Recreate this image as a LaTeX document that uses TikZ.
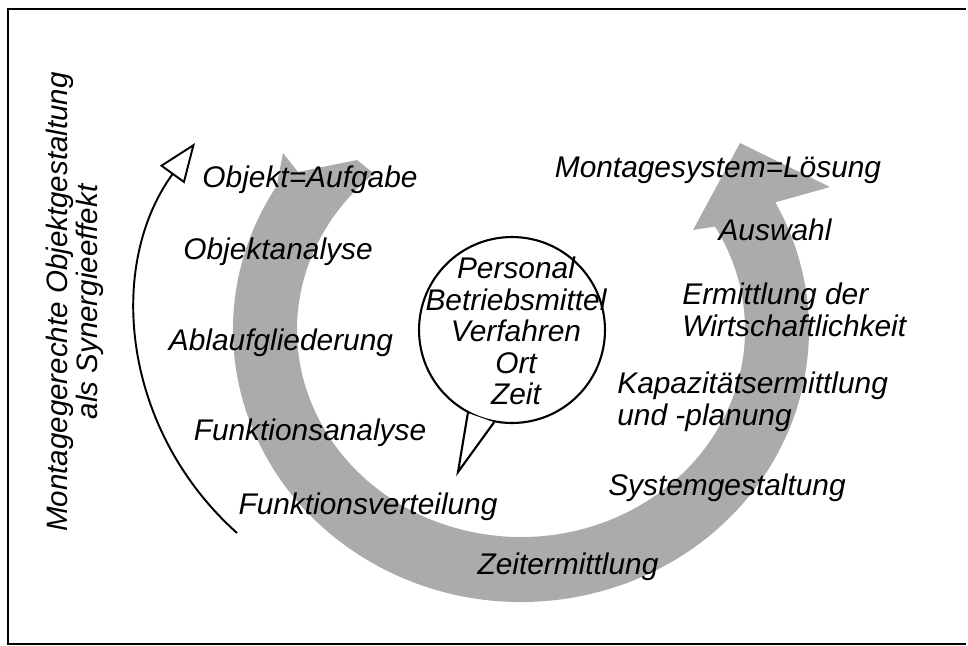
\documentclass[tikz,border=0pt]{standalone}
\usepackage{fontspec}
\setmainfont{Liberation Sans}
\usetikzlibrary{positioning,arrows.meta,calc}

\begin{document}
\begin{tikzpicture}[
    x=0.02cm, y=-0.02cm,
    font=\fontsize{17pt}{18pt}\selectfont\itshape,
    every node/.style={align=center, inner sep=0pt},
    ring/.style={fill=black!33},
    bubble/.style={circle, draw, line width=1.2pt, minimum size=3.72cm, fill=white},
    tail/.style={fill=white, draw, line width=1.2pt, line join=miter},
    syn/.style={line width=1.1pt, -{Triangle[open, length=0.78cm, width=0.6cm, line width=1.1pt]}},
    side/.style={rotate=90, font=\fontsize{16.8pt}{15pt}\selectfont\itshape},
    frame/.style={line width=1.3pt}
]

\useasboundingbox (0,0) rectangle (968,646);
\draw[frame] (966,9) -- (8,9) -- (8,644) -- (966,644);

\coordinate (rc) at (521,330);
\fill[ring] (283,153) -- ($(rc)+(212:288 and 272)$) arc[start angle=212, end angle=-28, x radius=288, y radius=272]
    -- (830,187) -- (740,143) -- (693,230)
    -- ($(rc)+(-30:224 and 207)$) arc[start angle=-30, end angle=229, x radius=224, y radius=207]
    -- (357,160) -- (298,172) -- cycle;

\node (obj)   at (310,180) {Objekt=Aufgabe};
\node (oana)  at (278,252) {Objektanalyse};
\node (abl)   at (281,343) {Ablaufgliederung};
\node (fana)  at (310,433) {Funktionsanalyse};
\node (fvert) at (368,507) {Funktionsverteilung};
\node (zeit)  at (568,567) {Zeitermittlung};
\node (sys)   at (727,488) {Systemgestaltung};
\node[anchor=west, align=left] (kap)  at (617,402) {Kapazitätsermittlung\\und -planung};
\node[anchor=west, align=left] (wirt) at (682,310) {Ermittlung der\\Wirtschaftlichkeit};
\node (ausw)  at (775,230) {Auswahl};
\node (loes)  at (718,170) {Montagesystem=Lösung};

\node[bubble] (bub) at (512,330) {};
\node (bubtxt) at (516,331) {Personal\\Betriebsmittel\\Verfahren\\Ort\\Zeit};
\coordinate (tip) at (458,472);
\draw[tail] (bub.-101) -- (tip) -- (bub.-118);

\coordinate (syn0) at (237,533);
\coordinate (syn1) at (195,143);
\draw[syn] (syn0) to[bend left=42] (syn1);
\node[side] (syntxt) at (75,302) {Montagegerechte Objektgestaltung\\als Synergieeffekt};

\end{tikzpicture}
\end{document}
